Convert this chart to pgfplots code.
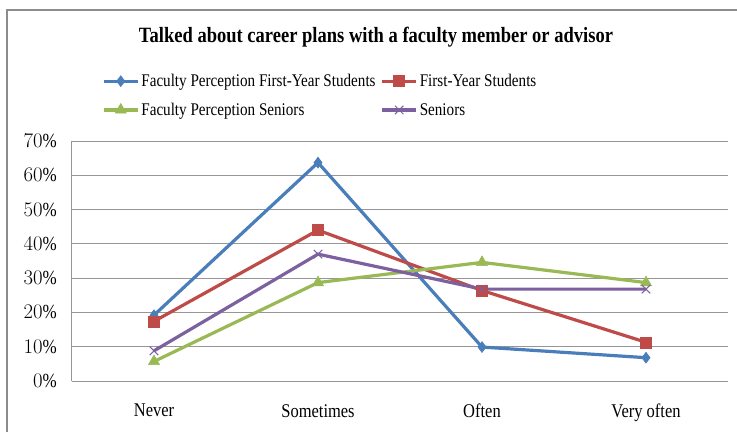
\documentclass[border=0pt]{standalone}
\usepackage{fontspec}
\setmainfont[FakeStretch=0.85]{Liberation Serif}
\usepackage{pgfplots}
\pgfplotsset{compat=1.18}

\definecolor{cblue}{RGB}{74,126,187}
\definecolor{cred}{RGB}{190,75,72}
\definecolor{cgreen}{RGB}{152,185,84}
\definecolor{cpurple}{RGB}{125,96,160}
\definecolor{cgrid}{RGB}{150,150,150}
\definecolor{cframe}{RGB}{140,140,140}

\begin{document}
\begin{tikzpicture}[x=1pt,y=1pt]
  \useasboundingbox (0,0) rectangle (737,432);
  % outer chart frame (only top and left edges visible)
  \draw[line width=2pt, cframe] (7,0) -- (7,421.5) -- (737,421.5);
  \node[font=\bfseries\fontsize{21.8}{26}\selectfont, anchor=base] at (376,389)
    {Talked about career plans with a faculty member or advisor};
  \begin{axis}[
    at={(72pt,51pt)}, anchor=south west,
    scale only axis, width=656pt, height=240pt,
    xmin=-0.5, xmax=3.5, ymin=0, ymax=70,
    xtick=data,
    xticklabels={Never, Sometimes, Often, Very often},
    ytick={0,10,...,70},
    yticklabel={\pgfmathprintnumber{\tick}\%},
    ymajorgrids,
    grid style={cgrid, line width=1pt},
    axis x line*=bottom, axis y line*=left,
    axis line style={cgrid, line width=1pt, -},
    tick style={draw=none},
    yticklabel style={inner sep=0pt, xshift=-15pt, font=\fontsize{20}{24}\selectfont},
    xticklabel style={inner sep=0pt, anchor=north, yshift=-23pt, font=\fontsize{19.4}{23}\selectfont},
    legend columns=2,
    legend cell align=left,
    legend style={at={(0.0457,1.2875)}, anchor=north west, draw=none, fill=none,
      inner sep=0pt, font=\fontsize{17.8}{21}\selectfont,
      /tikz/every even column/.append style={column sep=3pt},
      row sep=11pt, nodes={inner sep=2pt}},
    legend image code/.code={
      \draw[mark repeat=2, mark phase=2] plot coordinates {(0pt,0pt)(17pt,0pt)(34pt,0pt)};},
    every axis plot/.append style={line width=3.2pt},
  ]
    \addplot[cblue, mark=diamond*, mark size=5.5pt, mark options={solid, line width=0.5pt}]
      coordinates {(0,19.2) (1,63.7) (2,9.9) (3,6.8)};
    \addplot[cred, mark=square*, mark size=5.5pt, mark options={solid, line width=0.5pt}]
      coordinates {(0,17.4) (1,44.0) (2,26.4) (3,11.3)};
    \addplot[cgreen, mark=triangle*, mark size=6.5pt, mark options={solid, line width=0.5pt}]
      coordinates {(0,5.7) (1,28.7) (2,34.6) (3,28.7)};
    \addplot[cpurple, mark=x, mark size=6pt, mark options={solid, line width=1pt}]
      coordinates {(0,8.8) (1,37.0) (2,26.8) (3,26.8)};
    \legend{Faculty Perception First-Year Students, First-Year Students,
      Faculty Perception Seniors, Seniors}
  \end{axis}
\end{tikzpicture}
\end{document}
